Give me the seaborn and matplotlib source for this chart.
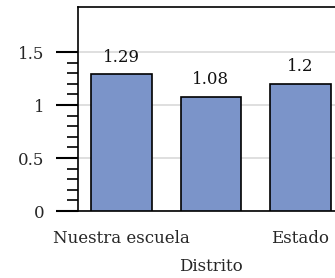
import matplotlib
matplotlib.use("Agg")
import matplotlib.pyplot as plt
import seaborn as sns
import pandas as pd
from matplotlib.ticker import FixedLocator

categories = ["Nuestra escuela", "Distrito", "Estado"]
values = [1.29, 1.08, 1.2]
value_labels = ["1.29", "1.08", "1.2"]
major_ticks = [0, 0.5, 1, 1.5]
major_tick_labels = ["0", "0.5", "1", "1.5"]
minor_ticks = [0.1, 0.2, 0.3, 0.4, 0.6, 0.7, 0.8, 0.9, 1.1, 1.2, 1.3, 1.4]

sns.set_theme(style="white")
plt.rcParams['font.family'] = ['DejaVu Serif']

df = pd.DataFrame({"cat": categories, "val": values})

fig = plt.figure(figsize=(3.35, 2.78), dpi=100)
ax = fig.add_axes([78/335, 67/278, 266/335, 204/278])

sns.barplot(data=df, x="cat", y="val", color="#7b94c9", saturation=1,
            edgecolor="black", linewidth=1.2, width=0.68, ax=ax, zorder=3)

ax.set_xlim(-0.486, 2.486)
ax.set_ylim(0, 1.925)
ax.set_yticks(major_ticks)
ax.set_yticklabels(major_tick_labels)
ax.yaxis.set_minor_locator(FixedLocator(minor_ticks))
ax.grid(axis="y", which="major", color="#d9d9d9", linewidth=1.2, zorder=0)
ax.set_axisbelow(True)

for s in ax.spines.values():
    s.set_color("black")
    s.set_linewidth(1.2)

ax.tick_params(axis="y", which="major", length=16, width=1.5, color="black",
               direction="out", pad=8, labelsize=12, left=True)
ax.tick_params(axis="y", which="minor", length=8, width=1.2, color="black",
               direction="out", left=True)
ax.tick_params(axis="x", which="both", length=0, pad=14, labelsize=12)

ax.set_xlabel("")
ax.set_ylabel("")

xt = ax.xaxis.get_major_ticks()
xt[1].set_pad(34)

for i, (v, lab) in enumerate(zip(values, value_labels)):
    ax.annotate(lab, xy=(i, v), xytext=(0, 6), textcoords="offset points",
                ha="center", va="bottom", fontsize=12, color="#111111")

fig.savefig("out.png", dpi=100)
